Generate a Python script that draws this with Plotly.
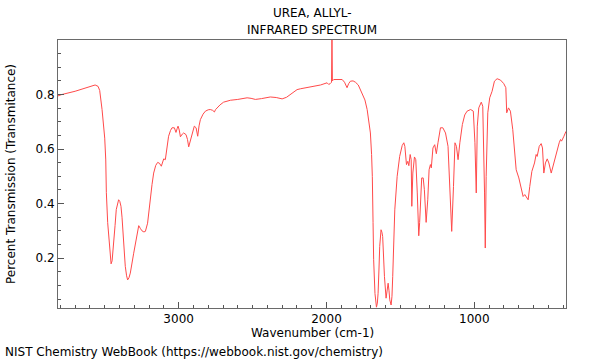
import plotly.graph_objects as go

wavenumber = [3816, 3790, 3700, 3620, 3565, 3545, 3534, 3518, 3500, 3493, 3489, 3480, 3473, 3463, 3457, 3450, 3440, 3430, 3422, 3406,
              3398, 3390, 3383, 3376, 3368, 3361, 3352, 3345, 3336, 3327, 3304, 3285, 3270, 3258, 3248, 3235, 3225, 3210, 3200, 3191,
              3180, 3169, 3155, 3142, 3130, 3117, 3108, 3101, 3090, 3080, 3068, 3055, 3045, 3029, 3018, 3010, 3004, 2996, 2988, 2975,
              2966, 2950, 2940, 2932, 2924, 2916, 2905, 2894, 2882, 2876, 2871, 2862, 2853, 2835, 2819, 2800, 2786, 2770, 2758, 2750,
              2740, 2720, 2696, 2650, 2600, 2537, 2510, 2481, 2440, 2402, 2380, 2340, 2300, 2270, 2244, 2220, 2199, 2177, 2100, 2040,
              1996, 1985, 1975, 1966, 1963, 1960, 1951, 1920, 1894, 1878, 1861, 1850, 1838, 1820, 1804, 1785, 1759, 1740, 1725, 1703,
              1695, 1690, 1685, 1681, 1672, 1662, 1656, 1651, 1645, 1640, 1631, 1625, 1620, 1614, 1608, 1597, 1590, 1583, 1577, 1572,
              1563, 1557, 1552, 1545, 1538, 1522, 1505, 1488, 1477, 1470, 1466, 1459, 1450, 1443, 1434, 1427, 1423, 1416, 1405, 1396,
              1386, 1376, 1370, 1364, 1356, 1346, 1338, 1326, 1315, 1306, 1297, 1291, 1280, 1268, 1257, 1246, 1235, 1229, 1213, 1195,
              1178, 1165, 1153, 1141, 1131, 1121, 1110, 1098, 1081, 1065, 1049, 1025, 1007, 996, 987, 980, 970, 953, 943, 931,
              926, 920, 909, 896, 880, 864, 846, 823, 801, 787, 781, 769, 756, 740, 727, 717, 699, 683, 670, 659,
              647, 636, 625, 611, 593, 582, 575, 561, 548, 539, 530, 519, 507, 496, 480, 463, 444, 426, 417, 410,
              394, 380]
transmittance = [0.795, 0.800, 0.812, 0.826, 0.835, 0.830, 0.815, 0.745, 0.64, 0.56, 0.44, 0.33, 0.28, 0.20, 0.179, 0.19, 0.243, 0.32, 0.378, 0.414,
                 0.408, 0.39, 0.35, 0.293, 0.22, 0.17, 0.135, 0.12, 0.128, 0.145, 0.218, 0.28, 0.319, 0.308, 0.30, 0.296, 0.298, 0.328, 0.38, 0.426,
                 0.47, 0.512, 0.540, 0.551, 0.548, 0.537, 0.555, 0.564, 0.561, 0.60, 0.647, 0.668, 0.678, 0.678, 0.661, 0.675, 0.684, 0.67, 0.645, 0.655,
                 0.659, 0.653, 0.635, 0.608, 0.625, 0.647, 0.668, 0.684, 0.678, 0.665, 0.647, 0.685, 0.708, 0.728, 0.739, 0.744, 0.745, 0.742, 0.736, 0.745,
                 0.751, 0.762, 0.772, 0.779, 0.782, 0.788, 0.786, 0.782, 0.785, 0.788, 0.791, 0.789, 0.784, 0.79, 0.80, 0.81, 0.818, 0.821, 0.828, 0.835,
                 0.843, 0.837, 0.840, 0.845, 1.0, 0.85, 0.855, 0.855, 0.855, 0.845, 0.825, 0.840, 0.849, 0.850, 0.845, 0.835, 0.806, 0.78, 0.745, 0.659,
                 0.58, 0.50, 0.33, 0.194, 0.07, 0.02, 0.035, 0.071, 0.16, 0.243, 0.304, 0.295, 0.279, 0.20, 0.133, 0.053, 0.08, 0.108, 0.08, 0.047,
                 0.028, 0.06, 0.133, 0.25, 0.377, 0.50, 0.573, 0.613, 0.623, 0.61, 0.586, 0.543, 0.555, 0.539, 0.58, 0.561, 0.39, 0.512, 0.571, 0.561,
                 0.439, 0.282, 0.33, 0.39, 0.494, 0.494, 0.451, 0.331, 0.414, 0.524, 0.543, 0.531, 0.604, 0.616, 0.583, 0.623, 0.665, 0.678, 0.678, 0.659,
                 0.61, 0.463, 0.298, 0.463, 0.623, 0.61, 0.561, 0.623, 0.69, 0.725, 0.739, 0.745, 0.739, 0.623, 0.439, 0.684, 0.751, 0.772, 0.757, 0.439,
                 0.237, 0.50, 0.733, 0.788, 0.812, 0.849, 0.858, 0.853, 0.84, 0.825, 0.733, 0.751, 0.739, 0.671, 0.598, 0.524, 0.494, 0.457, 0.426, 0.433,
                 0.420, 0.414, 0.463, 0.518, 0.549, 0.58, 0.573, 0.61, 0.62, 0.604, 0.512, 0.549, 0.564, 0.549, 0.512, 0.549, 0.592, 0.623, 0.635, 0.629,
                 0.647, 0.665]

x_ticks = [3000, 2000, 1000]
y_ticks = [0.2, 0.4, 0.6, 0.8]

FONT = "DejaVu Sans"
TXT = dict(family=FONT, size=12, color="#000")

fig = go.Figure()
fig.add_trace(go.Scatter(x=wavenumber, y=transmittance, mode="lines",
                         line=dict(color="#ff4a4a", width=1), showlegend=False,
                         hoverinfo="skip"))

axis_common = dict(showgrid=False, zeroline=False, showline=True, mirror=True,
                   linecolor="#6a6a6a", linewidth=1, ticks="inside",
                   tickcolor="#555", tickwidth=1, automargin=False,
                   tickfont=TXT)

fig.update_xaxes(range=[3816, 380], tickvals=x_ticks, ticktext=[str(v) for v in x_ticks],
                 ticklen=6,
                 minor=dict(ticks="inside", ticklen=3, dtick=100, tick0=0, tickcolor="#555"),
                 **axis_common)
fig.update_yaxes(range=[0.017, 1.0], tickvals=y_ticks, ticktext=["0.2", "0.4", "0.6", "0.8"],
                 ticklen=6,
                 minor=dict(ticks="inside", ticklen=3, dtick=0.05, tick0=0, tickcolor="#555"),
                 **axis_common)

fig.update_layout(
    width=600, height=360,
    margin=dict(l=58, r=34, t=40, b=52, autoexpand=False),
    plot_bgcolor="white", paper_bgcolor="white",
    font=TXT,
)
fig.add_annotation(text="UREA, ALLYL-", xref="paper", yref="paper", x=0.5, y=1,
                   yanchor="middle", yshift=27, showarrow=False, font=TXT)
fig.add_annotation(text="INFRARED SPECTRUM", xref="paper", yref="paper", x=0.5, y=1,
                   yanchor="middle", yshift=10, showarrow=False, font=TXT)
fig.add_annotation(text="Wavenumber (cm-1)", xref="paper", yref="paper", x=0.5, y=0,
                   yanchor="middle", yshift=-25, showarrow=False, font=TXT)
fig.add_annotation(text="Percent Transmission (Transmitance)", xref="paper", yref="paper",
                   x=0, y=0.5, xanchor="center", yanchor="middle", xshift=-47,
                   textangle=-90, showarrow=False, font=TXT)
fig.add_annotation(text="NIST Chemistry WebBook (https://webbook.nist.gov/chemistry)",
                   xref="paper", yref="paper", x=0, y=0, xanchor="left", yanchor="middle",
                   xshift=-55, yshift=-44, showarrow=False, font=TXT)

fig.write_html("out.html", config={"displayModeBar": False},
               post_script="document.body.style.margin='0';document.body.style.overflow='hidden';")
